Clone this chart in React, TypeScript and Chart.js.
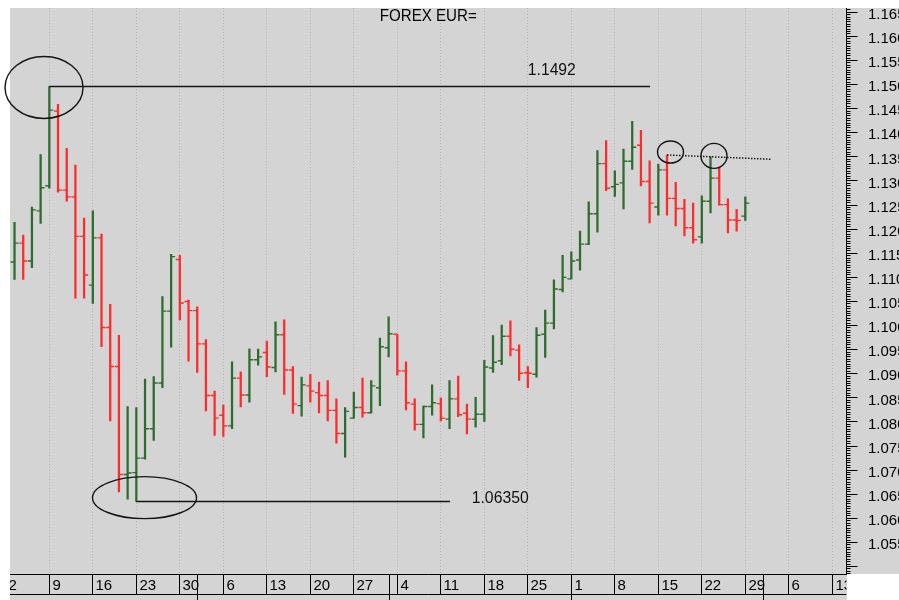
import React, { useEffect, useRef } from 'react';
import { Chart, registerables } from 'chart.js';

Chart.register(...registerables);

// ---- DATA (EUR/USD daily, Mar 3 – Jun 29) ----
const dates = [
  'Mar 3', 'Mar 4', 'Mar 5', 'Mar 6',
  'Mar 9', 'Mar 10', 'Mar 11', 'Mar 12', 'Mar 13',
  'Mar 16', 'Mar 17', 'Mar 18', 'Mar 19', 'Mar 20',
  'Mar 23', 'Mar 24', 'Mar 25', 'Mar 26', 'Mar 27',
  'Mar 30', 'Mar 31', 'Apr 1', 'Apr 2', 'Apr 3',
  'Apr 6', 'Apr 7', 'Apr 8', 'Apr 9', 'Apr 10',
  'Apr 13', 'Apr 14', 'Apr 15', 'Apr 16', 'Apr 17',
  'Apr 20', 'Apr 21', 'Apr 22', 'Apr 23', 'Apr 24',
  'Apr 27', 'Apr 28', 'Apr 29', 'Apr 30', 'May 1',
  'May 4', 'May 5', 'May 6', 'May 7', 'May 8',
  'May 11', 'May 12', 'May 13', 'May 14', 'May 15',
  'May 18', 'May 19', 'May 20', 'May 21', 'May 22',
  'May 25', 'May 26', 'May 27', 'May 28', 'May 29',
  'Jun 1', 'Jun 2', 'Jun 3', 'Jun 4', 'Jun 5',
  'Jun 8', 'Jun 9', 'Jun 10', 'Jun 11', 'Jun 12',
  'Jun 15', 'Jun 16', 'Jun 17', 'Jun 18', 'Jun 19',
  'Jun 22', 'Jun 23', 'Jun 24', 'Jun 25', 'Jun 26',
  'Jun 29',
];

const opens = [
  1.1132, 1.1171, 1.1134, 1.1238,
  1.1290, 1.1445, 1.1281, 1.1267, 1.1185,
  1.1084, 1.1182, 1.0996, 1.0915, 1.0691,
  1.0695, 1.0725, 1.0786, 1.0881, 1.1030,
  1.1137, 1.1050, 1.1031, 1.0962, 1.0855,
  1.0814, 1.0792, 1.0891, 1.0856, 1.0929,
  1.0944, 1.0913, 1.0981, 1.0908, 1.0834,
  1.0875, 1.0861, 1.0855, 1.0824, 1.0776,
  1.0808, 1.0830, 1.0819, 1.0871, 1.0954,
  1.0982, 1.0906, 1.0837, 1.0795, 1.0832,
  1.0838, 1.0806, 1.0848, 1.0818, 1.0806,
  1.0816, 1.0912, 1.0927, 1.0978, 1.0949,
  1.0902, 1.0899, 1.0982, 1.1005, 1.1075,
  1.1097, 1.1136, 1.1169, 1.1232, 1.1336,
  1.1288, 1.1296, 1.1341, 1.1374, 1.1299,
  1.1246, 1.1323, 1.1264, 1.1243, 1.1203,
  1.1184, 1.1258, 1.1306, 1.1251, 1.1219,
  1.1227,
];

const highs = [
  1.1214, 1.1188, 1.1246, 1.1355,
  1.1496, 1.1459, 1.1368, 1.1333, 1.1223,
  1.1238, 1.1190, 1.1044, 1.0980, 1.0832,
  1.0830, 1.0889, 1.0894, 1.1060, 1.1148,
  1.1146, 1.1053, 1.1039, 1.0971, 1.0864,
  1.0835, 1.0925, 1.0904, 1.0952, 1.0951,
  1.0968, 1.1008, 1.1012, 1.0915, 1.0893,
  1.0899, 1.0883, 1.0886, 1.0848, 1.0830,
  1.0862, 1.0891, 1.0886, 1.0974, 1.1018,
  1.0982, 1.0925, 1.0848, 1.0833, 1.0877,
  1.0850, 1.0886, 1.0895, 1.0837, 1.0851,
  1.0928, 1.0979, 1.1001, 1.1010, 1.0960,
  1.0915, 1.0996, 1.1032, 1.1095, 1.1146,
  1.1153, 1.1196, 1.1257, 1.1363, 1.1384,
  1.1321, 1.1366, 1.1424, 1.1405, 1.1342,
  1.1335, 1.1354, 1.1297, 1.1262, 1.1254,
  1.1269, 1.1350, 1.1326, 1.1263, 1.1241,
  1.1267,
];

const lows = [
  1.1096, 1.1096, 1.1120, 1.1212,
  1.1285, 1.1277, 1.1258, 1.1057, 1.1057,
  1.1046, 1.0956, 1.0802, 1.0655, 1.0640,
  1.0635, 1.0723, 1.0762, 1.0871, 1.0955,
  1.1012, 1.0926, 1.0903, 1.0823, 1.0772,
  1.0770, 1.0786, 1.0831, 1.0841, 1.0918,
  1.0894, 1.0904, 1.0857, 1.0818, 1.0812,
  1.0841, 1.0819, 1.0802, 1.0756, 1.0727,
  1.0808, 1.0810, 1.0819, 1.0834, 1.0935,
  1.0897, 1.0825, 1.0783, 1.0767, 1.0814,
  1.0802, 1.0786, 1.0811, 1.0775, 1.0789,
  1.0801, 1.0903, 1.0919, 1.0937, 1.0886,
  1.0871, 1.0893, 1.0934, 1.0993, 1.1070,
  1.1097, 1.1115, 1.1168, 1.1194, 1.1280,
  1.1268, 1.1242, 1.1324, 1.1290, 1.1213,
  1.1229, 1.1229, 1.1207, 1.1186, 1.1171,
  1.1171, 1.1234, 1.1250, 1.1192, 1.1196,
  1.1218,
];

const closes = [
  1.1171, 1.1134, 1.1240, 1.1286,
  1.1447, 1.1281, 1.1267, 1.1185, 1.1105,
  1.1182, 1.0996, 1.0915, 1.0691, 1.0694,
  1.0725, 1.0786, 1.0881, 1.1030, 1.1143,
  1.1047, 1.1031, 1.0962, 1.0855, 1.0808,
  1.0792, 1.0891, 1.0856, 1.0929, 1.0935,
  1.0914, 1.0981, 1.0908, 1.0837, 1.0877,
  1.0864, 1.0855, 1.0824, 1.0776, 1.0822,
  1.0830, 1.0819, 1.0875, 1.0956, 1.0983,
  1.0906, 1.0840, 1.0795, 1.0832, 1.0840,
  1.0808, 1.0848, 1.0815, 1.0806, 1.0816,
  1.0914, 1.0924, 1.0978, 1.0951, 1.0901,
  1.0901, 1.0980, 1.1005, 1.1076, 1.1100,
  1.1134, 1.1169, 1.1232, 1.1336, 1.1285,
  1.1293, 1.1341, 1.1370, 1.1299, 1.1254,
  1.1323, 1.1264, 1.1243, 1.1203, 1.1178,
  1.1258, 1.1306, 1.1251, 1.1219, 1.1218,
  1.1254,
];

// trading-day index of the first bar (Mar 2 = 0)
const firstBarIndex = 1;

// week start (Monday) positions on the trading-day axis and their labels
const weekTickIndex = [0, 5, 10, 15, 20, 25, 30, 35, 40, 45, 50, 55, 60, 65, 70, 75, 80, 85, 90, 95];
const weekTickLabels = ['2', '9', '16', '23', '30', '6', '13', '20', '27', '4', '11', '18', '25', '1', '8', '15', '22', '29', '6', '13'];
// first trading day of each month (Apr, May, Jun, Jul)
const monthStartIndex = [22, 44, 65, 87];

const yTickLabels = [
  '1.055', '1.060', '1.065', '1.070', '1.075', '1.080', '1.085', '1.090', '1.095',
  '1.100', '1.105', '1.110', '1.115', '1.120', '1.125', '1.130', '1.135', '1.140',
  '1.145', '1.150', '1.155', '1.160', '1.165',
];

const chartTitle = 'FOREX EUR=';

// annotations (data coordinates: trading-day index, price)
const levelLines = [
  { from: 5, to: 74.05, price: 1.1496 },
  { from: 15, to: 51.06, price: 1.0635 },
];
const levelLabels = [
  { index: 60.0, price: 1.1520, text: '1.1492', width: 48 },
  { index: 53.55, price: 1.06313, text: '1.06350', width: 57 },
];
const resistanceLine = { fromIndex: 76, fromPrice: 1.1354, toIndex: 88.03, toPrice: 1.1345 };
const ellipses = [
  { index: 4.39, price: 1.1494, rx: 39, ry: 31 },
  { index: 15.94, price: 1.0643, rx: 52, ry: 21 },
  { index: 76.4, price: 1.1360, rx: 13, ry: 11 },
  { index: 81.4, price: 1.1352, rx: 13, ry: 12.5 },
];

// ---- STYLE ----
const GREEN = '#2d6c2d';
const RED = '#ff2a2a';
const PLOT_BG = '#d4d4d4';
const FONT = '"Liberation Sans", Arial, Helvetica, sans-serif';

const barColors = opens.map((o, k) => (closes[k] >= o ? GREEN : RED));

const ohlcPlugin = {
  id: 'ohlcDecor',
  beforeDraw(chart: any) {
    const { ctx, width, height, chartArea } = chart;
    ctx.save();
    ctx.fillStyle = '#ffffff';
    ctx.fillRect(0, 0, width, height);
    ctx.fillStyle = PLOT_BG;
    ctx.fillRect(chartArea.left, chartArea.top, width - chartArea.left, height - chartArea.top);
    ctx.fillStyle = '#ffffff';
    ctx.fillRect(chartArea.right + 0.5, chartArea.bottom, width, height);
    ctx.restore();
  },
  beforeDatasetsDraw(chart: any) {
    const { ctx, chartArea } = chart;
    const xs = chart.scales.x;
    ctx.save();
    ctx.strokeStyle = '#b4b4b4';
    ctx.lineWidth = 1;
    ctx.setLineDash([1, 2]);
    weekTickIndex.forEach((idx) => {
      const px = xs.getPixelForValue(idx);
      if (px < chartArea.left || px > chartArea.right) return;
      const x = Math.round(px - 0.5) + 0.5;
      ctx.beginPath();
      ctx.moveTo(x, chartArea.top);
      ctx.lineTo(x, chartArea.bottom);
      ctx.stroke();
    });
    ctx.restore();
  },
  afterDatasetsDraw(chart: any) {
    const { ctx, chartArea } = chart;
    const xs = chart.scales.x;
    const ys = chart.scales.y;
    ctx.save();
    ctx.beginPath();
    ctx.rect(chartArea.left, chartArea.top, chartArea.right - chartArea.left, chartArea.bottom - chartArea.top);
    ctx.clip();
    ctx.lineWidth = 1.4;
    dates.forEach((_, k) => {
      const x = xs.getPixelForValue(k + firstBarIndex);
      const yo = ys.getPixelForValue(opens[k]);
      const yc = ys.getPixelForValue(closes[k]);
      ctx.strokeStyle = barColors[k];
      ctx.beginPath();
      ctx.moveTo(x - 4, yo);
      ctx.lineTo(x, yo);
      ctx.moveTo(x, yc);
      ctx.lineTo(x + 4, yc);
      ctx.stroke();
    });
    ctx.restore();
  },
  afterDraw(chart: any) {
    const { ctx, chartArea, height } = chart;
    const xs = chart.scales.x;
    const ys = chart.scales.y;

    // major ticks on the price axis
    ctx.save();
    ctx.strokeStyle = '#000';
    ctx.lineWidth = 1;
    const axisX = ys.left;
    ys.ticks.forEach((t: any) => {
      const m = t.value / 0.005;
      if (Math.abs(m - Math.round(m)) > 1e-6) return;
      const py = Math.round(ys.getPixelForValue(t.value) - 0.5) + 0.5;
      ctx.beginPath();
      ctx.moveTo(axisX, py);
      ctx.lineTo(axisX + 11, py);
      ctx.stroke();
    });
    ctx.restore();

    // date band
    ctx.save();
    const bandTop = chartArea.bottom;
    ctx.beginPath();
    ctx.rect(chartArea.left, bandTop - 1, chartArea.right - chartArea.left, height - bandTop + 1);
    ctx.clip();
    ctx.strokeStyle = '#000';
    ctx.lineWidth = 1;
    ctx.beginPath();
    ctx.moveTo(chartArea.left, bandTop + 0.5);
    ctx.lineTo(chartArea.right, bandTop + 0.5);
    ctx.moveTo(chartArea.left, bandTop + 20.5);
    ctx.lineTo(chartArea.right, bandTop + 20.5);
    ctx.stroke();
    ctx.fillStyle = '#000';
    ctx.font = `15px ${FONT}`;
    ctx.textAlign = 'left';
    ctx.textBaseline = 'alphabetic';
    weekTickIndex.forEach((idx, w) => {
      const x = Math.round(xs.getPixelForValue(idx) - 0.5) + 0.5;
      ctx.beginPath();
      ctx.moveTo(x, bandTop);
      ctx.lineTo(x, bandTop + 21);
      ctx.stroke();
      ctx.fillText(weekTickLabels[w], x + 3, bandTop + 16);
    });
    monthStartIndex.forEach((idx) => {
      const x = Math.round(xs.getPixelForValue(idx)) + 0.5;
      ctx.beginPath();
      ctx.moveTo(x, bandTop);
      ctx.lineTo(x, height);
      ctx.stroke();
    });
    ctx.restore();

    // annotations
    ctx.save();
    ctx.strokeStyle = '#141414';
    ctx.lineWidth = 1.4;
    levelLines.forEach((l) => {
      const y = ys.getPixelForValue(l.price);
      ctx.beginPath();
      ctx.moveTo(xs.getPixelForValue(l.from), y);
      ctx.lineTo(xs.getPixelForValue(l.to), y);
      ctx.stroke();
    });
    ellipses.forEach((e) => {
      ctx.beginPath();
      ctx.ellipse(xs.getPixelForValue(e.index), ys.getPixelForValue(e.price), e.rx, e.ry, 0, 0, Math.PI * 2);
      ctx.stroke();
    });
    ctx.setLineDash([1.5, 1.5]);
    ctx.beginPath();
    ctx.moveTo(xs.getPixelForValue(resistanceLine.fromIndex), ys.getPixelForValue(resistanceLine.fromPrice));
    ctx.lineTo(xs.getPixelForValue(resistanceLine.toIndex), ys.getPixelForValue(resistanceLine.toPrice));
    ctx.stroke();
    ctx.setLineDash([]);

    ctx.fillStyle = '#111';
    ctx.font = `16px ${FONT}`;
    ctx.textAlign = 'left';
    ctx.textBaseline = 'alphabetic';
    levelLabels.forEach((l) => {
      ctx.fillText(l.text, xs.getPixelForValue(l.index), ys.getPixelForValue(l.price), l.width);
    });

    // title
    ctx.textAlign = 'center';
    ctx.fillStyle = '#000';
    ctx.font = `16px ${FONT}`;
    ctx.fillText(chartTitle, (chartArea.left + chartArea.right) / 2, chartArea.top + 12.5, 97);
    ctx.restore();
  },
};

export default function App() {
  const canvasRef = useRef<HTMLCanvasElement | null>(null);

  useEffect(() => {
    const canvas = canvasRef.current;
    if (!canvas) return;
    const chart = new Chart(canvas, {
      type: 'bar',
      data: {
        datasets: [
          {
            data: dates.map((_, k) => ({ x: k + firstBarIndex, y: [lows[k], highs[k]] })) as any,
            backgroundColor: barColors,
            borderWidth: 0,
            barThickness: 1.6,
            grouped: false,
          } as any,
        ],
      },
      options: {
        animation: false,
        responsive: false,
        maintainAspectRatio: false,
        devicePixelRatio: 1,
        layout: { padding: { left: 10, top: 8, right: 0, bottom: 26 } },
        plugins: {
          legend: { display: false },
          tooltip: { enabled: false },
          title: { display: false },
        },
        scales: {
          x: {
            type: 'linear',
            min: 0.48,
            max: 96.63,
            offset: false,
            display: false,
          },
          y: {
            type: 'linear',
            position: 'right',
            min: 1.04846,
            max: 1.16589,
            grid: {
              display: true,
              drawOnChartArea: false,
              drawTicks: true,
              tickLength: 4,
              color: '#000',
              tickColor: '#000',
              tickWidth: 1,
            },
            border: { display: true, color: '#000', width: 1 },
            ticks: {
              stepSize: 0.0005,
              autoSkip: false,
              maxTicksLimit: 1000,
              includeBounds: false,
              padding: 17.5,
              labelOffset: 2.5,
              color: '#000',
              font: { family: FONT, size: 15 },
              callback: (value: any) => {
                const v = Number(value);
                const found = yTickLabels.find((l) => Math.abs(parseFloat(l) - v) < 1e-6);
                return found ?? '';
              },
            },
            afterFit: (scale: any) => {
              scale.width = 52.5;
              scale.paddingTop = 0;
              scale.paddingBottom = 0;
            },
          } as any,
        },
      } as any,
      plugins: [ohlcPlugin],
    });
    return () => chart.destroy();
  }, []);

  return (
    <div style={{ position: 'absolute', left: 0, top: 0, width: 899, height: 600 }}>
      <canvas ref={canvasRef} width={899} height={600} style={{ width: 899, height: 600, display: 'block' }} />
    </div>
  );
}
